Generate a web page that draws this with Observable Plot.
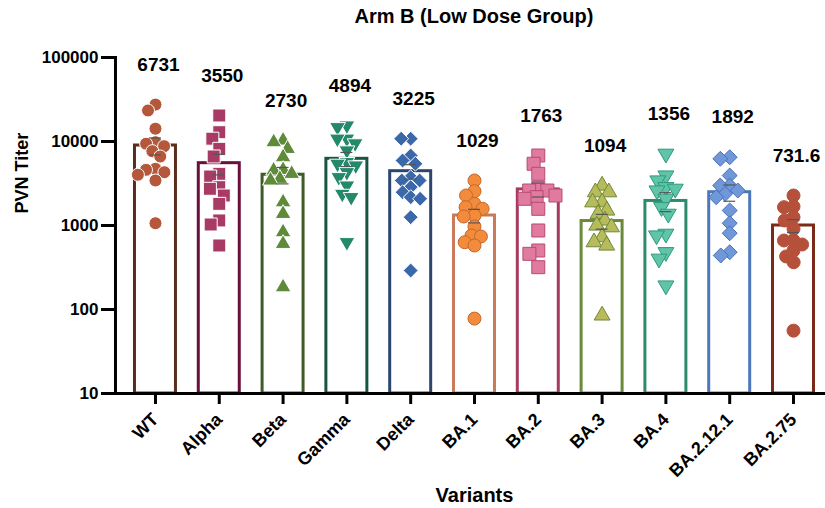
<!DOCTYPE html>
<html>
<head>
<meta charset="utf-8">
<script src="https://cdn.jsdelivr.net/npm/d3@7"></script>
<script src="https://cdn.jsdelivr.net/npm/@observablehq/plot@0.6"></script>
<style>
  html, body { margin: 0; padding: 0; background: #fff; }
  body { width: 825px; height: 508px; position: relative; overflow: hidden; font-family: "Liberation Sans", Arial, sans-serif; }
  #title { position: absolute; left: 274px; width: 400px; top: 4px; text-align: center; font-size: 20px; font-weight: bold; line-height: 24px; color: #000; }
  #chart { position: absolute; left: 0; top: 36px; }
</style>
</head>
<body>
<div id="title">Arm B (Low Dose Group)</div>
<div id="chart"></div>
<script>
// ---- data ----
const variants = ["WT", "Alpha", "Beta", "Gamma", "Delta", "BA.1", "BA.2", "BA.3", "BA.4", "BA.2.12.1", "BA.2.75"];
const gmLabels = ["6731", "3550", "2730", "4894", "3225", "1029", "1763", "1094", "1356", "1892", "731.6"];
const barMeans = [8960, 5520, 4020, 6220, 4430, 1315, 2690, 1130, 1960, 2490, 1000];
const yTicks = [10, 100, 1000, 10000, 100000];
const yLabel = "PVN Titer";
const xLabel = "Variants";

const wtTiters      = [27500, 23400, 14200, 9810, 9400, 8790, 7670, 6630, 4730, 4600, 4310, 4020, 3435, 1064];
const alphaTiters   = [20400, 12900, 10800, 8180, 6630, 4125, 3830, 2860, 2735, 2275, 1810, 1148, 1028, 578];
const betaTiters    = [10280, 9810, 8180, 6500, 4600, 4520, 4125, 3600, 3435, 1890, 1377, 832, 605, 184];
const gammaTiters   = [15500, 14800, 10800, 10800, 9500, 7820, 5680, 5430, 5180, 4310, 3760, 2990, 2380, 2175, 633];
const deltaTiters   = [10800, 10800, 6810, 5940, 5430, 3760, 3435, 3435, 2860, 2490, 2175, 2080, 1256, 291];
const ba1Titers     = [3435, 2560, 2275, 1810, 1652, 1580, 1315, 1280, 973, 760, 740, 633, 578, 78];
const ba2Titers     = [6810, 5430, 4125, 2810, 2610, 2610, 2275, 2175, 2080, 1580, 872, 504, 460, 319];
const ba3Titers     = [2990, 2490, 2490, 1890, 1890, 1510, 1377, 1148, 1000, 954, 726, 633, 578, 85];
const ba4Titers     = [7140, 3935, 3435, 2860, 2735, 2610, 2080, 1652, 1377, 796, 760, 481, 402, 193];
const ba2121Titers  = [6500, 6220, 3935, 2990, 2990, 2610, 2380, 2175, 1510, 1064, 809, 481, 440];
const ba275Titers   = [2275, 1683, 1652, 1256, 1148, 914, 663, 663, 594, 504, 428, 365, 56];
const series = [wtTiters, alphaTiters, betaTiters, gammaTiters, deltaTiters, ba1Titers, ba2Titers, ba3Titers, ba4Titers, ba2121Titers, ba275Titers];

// ---- styles ----
const pointFills   = ["#b5573a", "#a83b66", "#5e8a3a", "#24896a", "#3a68a8", "#f28c3c", "#e07a9e", "#b8bb5c", "#5fc4a8", "#7098d8", "#b5503a"];
const pointStrokes = ["#ffffff", "#ffffff", "#ffffff", "#ffffff", "#ffffff", "#c8662a", "#b84a76", "#6e8a36", "#2e9a7c", "#4a72bb", "#b5503a"];
const barStrokes   = ["#5a2e1e", "#6a0f3e", "#3f5b26", "#175543", "#2b4770", "#c87a5a", "#a83a60", "#6a8a3a", "#2e8a6c", "#4a78ba", "#7a2a18"];

const rad = s => Math.sqrt(s / Math.PI);
const symCircle = {draw(c, s) { const r = rad(s); c.moveTo(r, 0); c.arc(0, 0, r, 0, 2 * Math.PI); }};
const symSquare = {draw(c, s) { const h = rad(s) * 1.0; c.moveTo(-h, -h); c.lineTo(h, -h); c.lineTo(h, h); c.lineTo(-h, h); c.closePath(); }};
const symTriUp = {draw(c, s) { const a = rad(s) * 2.45, h = a * Math.sqrt(3) / 2; c.moveTo(0, -2 * h / 3); c.lineTo(a / 2, h / 3); c.lineTo(-a / 2, h / 3); c.closePath(); }};
const symTriDown = {draw(c, s) { const a = rad(s) * 2.45, h = a * Math.sqrt(3) / 2; c.moveTo(0, 2 * h / 3); c.lineTo(a / 2, -h / 3); c.lineTo(-a / 2, -h / 3); c.closePath(); }};
const symDiamond = {draw(c, s) { const d = rad(s) * 1.15; c.moveTo(0, -d); c.lineTo(d, 0); c.lineTo(0, d); c.lineTo(-d, 0); c.closePath(); }};
const symbols = [symCircle, symSquare, symTriUp, symTriDown, symDiamond, symCircle, symSquare, symTriUp, symTriDown, symDiamond, symCircle];

const marks = [];
variants.forEach((v, i) => {
  const vals = series[i];
  const mean = barMeans[i];
  const sem = d3.deviation(vals) / Math.sqrt(vals.length);
  const agg = [{variant: v, mean, lo: mean - sem, hi: mean + sem, max: d3.max(vals), label: gmLabels[i]}];
  const pts = vals.map(value => ({variant: v, value}));
  marks.push(Plot.barY(agg, {fx: "variant", y1: 10, y2: "mean", fill: "white", stroke: barStrokes[i], strokeWidth: 3, insetLeft: 0.5, insetRight: 0.5}));
  marks.push(Plot.dot(pts, Plot.dodgeX({anchor: "middle", padding: -3.5}, {fx: "variant", y: "value", r: 6.5, symbol: symbols[i], fill: pointFills[i], stroke: pointStrokes[i], strokeWidth: 1})));
  marks.push(Plot.ruleX(agg, {fx: "variant", y1: "lo", y2: "hi", stroke: "#555", strokeWidth: 1.2}));
  marks.push(Plot.tickY(agg, {fx: "variant", y: "lo", stroke: "#555", strokeWidth: 1.2, insetLeft: 15, insetRight: 15}));
  marks.push(Plot.tickY(agg, {fx: "variant", y: "hi", stroke: "#555", strokeWidth: 1.2, insetLeft: 15, insetRight: 15}));
  marks.push(Plot.text(agg, {fx: "variant", y: "max", text: "label", dy: -40, dx: 3, fontSize: 19, fontWeight: "bold", fill: "#000"}));
});

// axis lines (the super frame spans the facet bands, so extend it to the axis position)
marks.push(Plot.frame({anchor: "left", facet: "super", stroke: "#000", strokeWidth: 3, dx: -19}));
marks.push(Plot.frame({anchor: "bottom", facet: "super", stroke: "#000", strokeWidth: 3, insetLeft: -20.5, insetRight: -11}));
marks.push(Plot.axisY({ticks: yTicks, tickFormat: d => String(d), dx: -19, tickSize: 14, strokeWidth: 3, tickPadding: 3, fontSize: 17, fontWeight: "bold", label: null}));
marks.push(Plot.axisFx({anchor: "bottom", tickRotate: -45, tickSize: 11, strokeWidth: 3, tickPadding: 12, fontSize: 18, fontWeight: "bold", label: null}));
marks.push(Plot.text([yLabel], {facet: "super", text: d => d, frameAnchor: "left", rotate: -90, dx: -112, dy: -12, fontSize: 18, fontWeight: "bold", fill: "#000"}));
marks.push(Plot.text([xLabel], {facet: "super", text: d => d, frameAnchor: "bottom", dy: 108, fontSize: 20, fontWeight: "bold", fill: "#000"}));

const chart = Plot.plot({
  width: 825,
  height: 472,
  marginTop: 21,
  marginBottom: 115,
  marginLeft: 115,
  marginRight: 0,
  style: {fontFamily: "'Liberation Sans', Arial, sans-serif", fontWeight: "bold", color: "#000", background: "white"},
  fx: {domain: variants, paddingInner: 0.342, paddingOuter: 0.235, align: 0.633, round: false},
  y: {type: "log", domain: [10, 100000]},
  marks
});
document.getElementById("chart").appendChild(chart);
</script>
</body>
</html>
